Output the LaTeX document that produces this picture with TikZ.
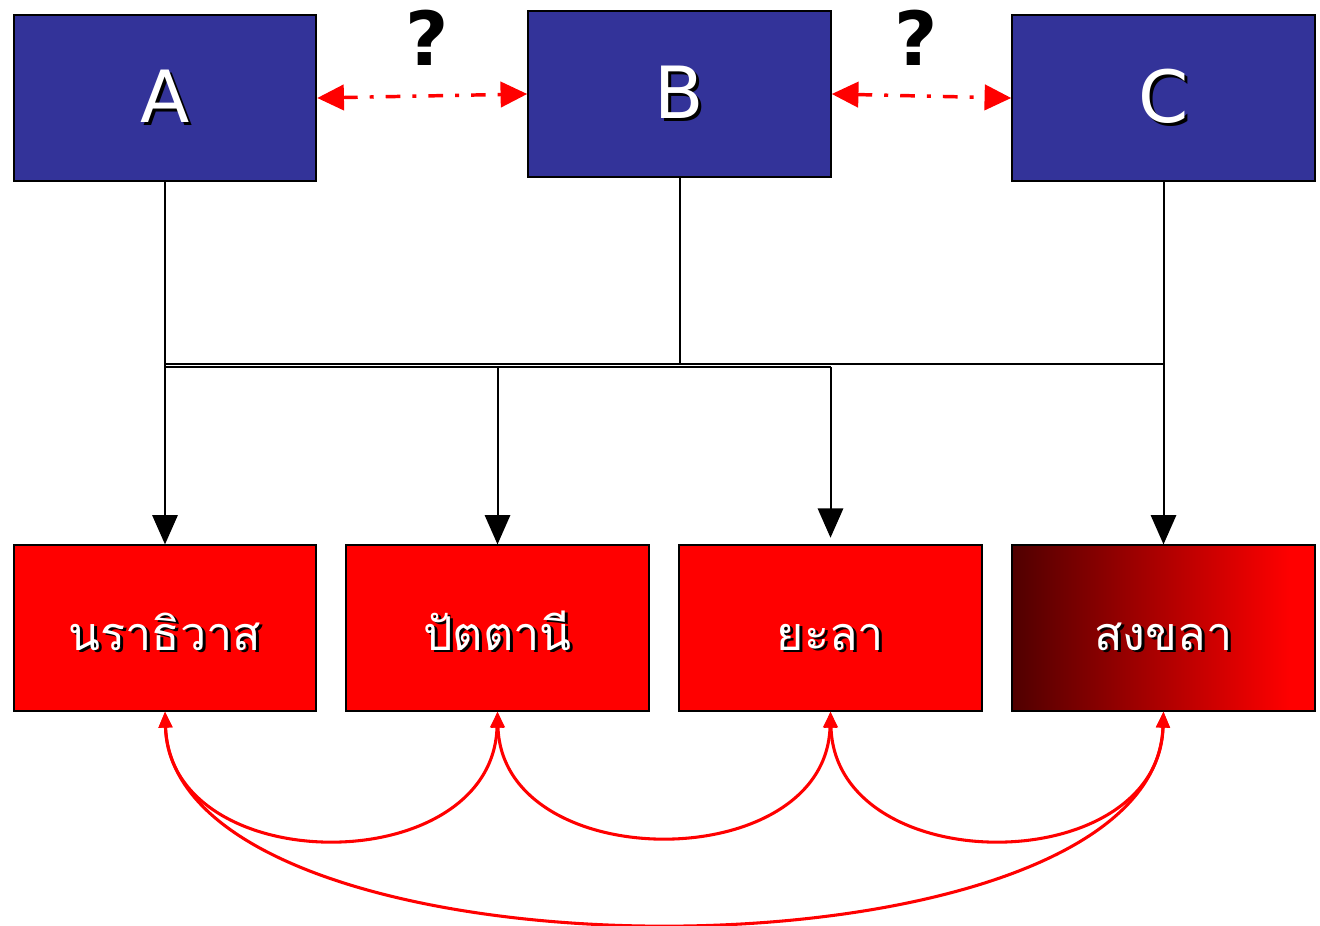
\documentclass[tikz,border=0pt]{standalone}
\usepackage{fontspec}
\setmainfont{DejaVu Sans}
\newfontfamily\thaifont[Script=Thai]{Loma}
\usetikzlibrary{arrows.meta}
\definecolor{boxblue}{HTML}{333399}
\definecolor{darkred}{HTML}{500000}
\pgfdeclarehorizontalshading{redgrad}{100bp}{color(0bp)=(darkred); color(25bp)=(darkred); color(71bp)=(red); color(100bp)=(red)}
\newcommand\shtext[1]{\makebox[0pt][l]{\hspace{2.2pt}\raisebox{-2.2pt}{\color{black}#1}}{\color{white}#1}}
\begin{document}
\begin{tikzpicture}[x=0.75pt,y=-0.75pt,
  box/.style={draw=black, line width=1.4pt, minimum width=227pt, minimum height=124pt, inner sep=0pt},
  topbox/.style={box, fill=boxblue, font=\fontsize{54}{60}\selectfont},
  botbox/.style={box, fill=red, font=\thaifont\fontsize{35}{40}\selectfont, text height=36pt, text depth=3pt},
  conn/.style={draw=black, line width=1.5pt},
  conarrow/.style={conn, -{Triangle[length=22pt,width=19pt]}},
  relarrow/.style={draw=red, line width=2.6pt, dash pattern=on 11pt off 9pt on 3pt off 9pt, {Triangle[length=20pt,width=19pt]}-{Triangle[length=20pt,width=19pt]}},
  arc/.style={draw=red, line width=2.3pt, {Triangle[length=12pt,width=10pt]}-{Triangle[length=12pt,width=10pt]}},
  qmark/.style={font=\bfseries\fontsize{56}{60}\selectfont, inner sep=0pt}
]
\useasboundingbox (0,0) rectangle (1320,925);

\node[topbox] (A) at (165,98) {\shtext{A}};
\node[topbox] (B) at (679.5,94) {\shtext{B}};
\node[topbox] (C) at (1163.5,98) {\shtext{C}};

\node[botbox] (nar) at (165,628) {\shtext{นราธิวาส}};
\node[botbox] (pat) at (497.5,628) {\shtext{ปัตตานี}};
\node[botbox] (yal) at (830.5,628) {\shtext{ยะลา}};
\node[botbox, shading=redgrad] (song) at (1163.5,628) {\shtext{สงขลา}};

\node[qmark] (q1) at (427,38) {?};
\node[qmark] (q2) at (916,38) {?};

\coordinate (j1) at (165,364);
\coordinate (j2) at (165,367);

\draw[conarrow] (A.south) -- (nar.north);
\draw[conn] (B.south) |- (j1);
\draw[conarrow] (C.south) -- (song.north);
\draw[conn] (C.south |- j1) -- (j1);
\draw[conn] (j2) -- (yal.north |- j2);
\draw[conarrow] (pat.north |- j2) -- (pat.north);
\draw[conarrow, shorten >=5pt] (yal.north |- j2) -- (yal.north);

\draw[relarrow] (A.east) -- (B.west);
\draw[relarrow] (B.east) -- (C.west);

\draw[arc] (nar.south) .. controls +(5,169) and +(-5,169) .. (pat.south);
\draw[arc] (pat.south) .. controls +(5,165) and +(-5,165) .. (yal.south);
\draw[arc] (yal.south) .. controls +(5,169) and +(-5,169) .. (song.south);
\draw[arc] (nar.south) .. controls +(10,281) and +(-10,281) .. (song.south);
\end{tikzpicture}
\end{document}
